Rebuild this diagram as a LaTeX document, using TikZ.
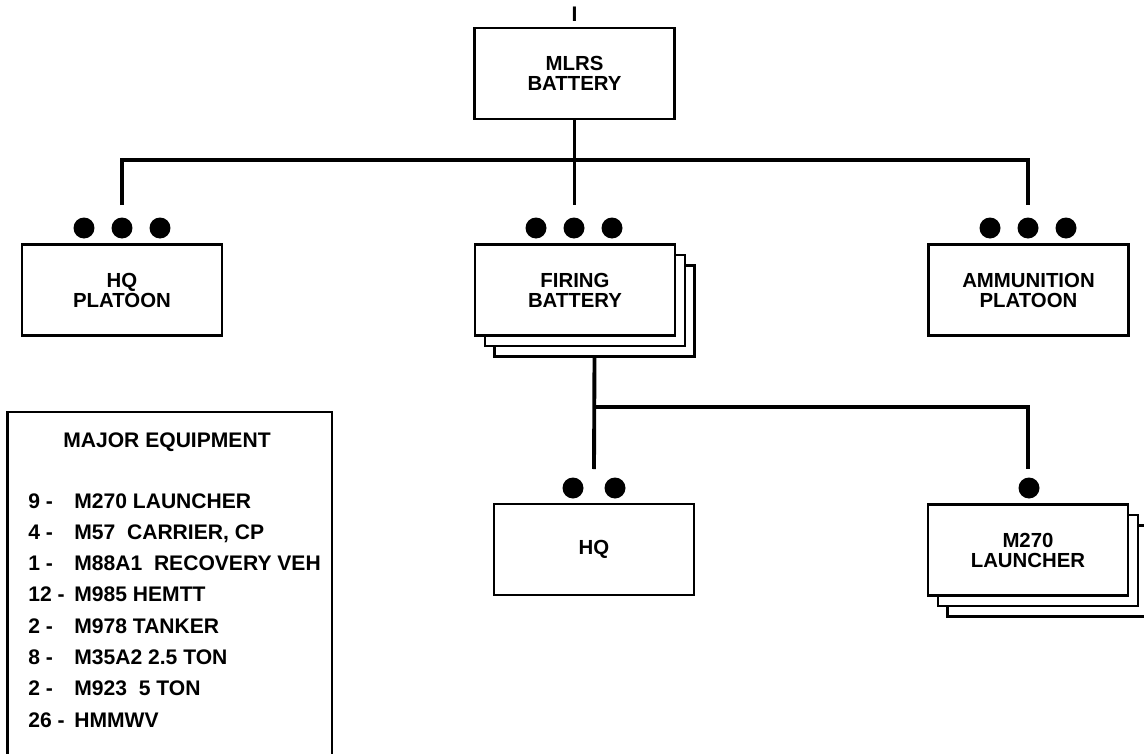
\documentclass[tikz,border=0pt]{standalone}
\usepackage{fontspec}
\setmainfont{Liberation Sans}
\usetikzlibrary{positioning, shadows}

\begin{document}
\begin{tikzpicture}[x=0.02cm, y=-0.02cm,
    unit/.style={draw, line width=1.3pt, fill=white, minimum width=4cm,
      minimum height=1.82cm, align=center, inner sep=0pt,
      font=\fontsize{11.6}{11.4}\selectfont\bfseries},
    stacked/.style={copy shadow={shadow xshift=0.39cm, shadow yshift=-0.42cm, line width=1.3pt},
      copy shadow={shadow xshift=0.195cm, shadow yshift=-0.21cm, line width=1.3pt}},
    link/.style={line width=2.2pt},
    txt/.style={font=\fontsize{12}{14}\selectfont\bfseries, inner sep=0pt}]
  \useasboundingbox (0,0) rectangle (1144,754);
  % echelon mark
  \node[txt, anchor=south] (mark) at (574.5,22) {I};
  % units
  \node[unit] (btry) at (574.5,73.5) {MLRS\\BATTERY};
  \node[unit] (hqplt) at (122,290) {HQ\\PLATOON};
  \node[unit, stacked] (fbtry) at (575,290) {FIRING\\BATTERY};
  \node[unit] (ammo) at (1028.5,290) {AMMUNITION\\PLATOON};
  \node[unit] (hq) at (594,549.5) {HQ};
  \node[unit, stacked] (lchr) at (1028,550) {M270\\LAUNCHER};
  % echelon dots
  \foreach \x in {84,122,160,536,574,612,990,1028,1066}
    \fill (\x,228) circle[radius=0.21cm];
  \foreach \x in {573,615,1029}
    \fill (\x,488) circle[radius=0.21cm];
  % connectors
  \coordinate (bus) at (574.5,160);
  \coordinate (hqpltin) at (122,205);
  \coordinate (fbtryin) at (574.5,205);
  \coordinate (ammoin) at (1028,205);
  \draw[link] (btry.south) -- (bus);
  \draw[link] (hqpltin) |- (bus) -| (ammoin);
  \draw[link] (bus) -- (fbtryin);
  \coordinate (fbus) at (594,407);
  \coordinate (hqin) at (594,469);
  \coordinate (lchrin) at (1028,469);
  \draw[link] ([xshift=0.39cm, yshift=-0.42cm]fbtry.south) -- (hqin);
  \draw[link] (fbus) -| (lchrin);
  % equipment list
  \draw[line width=1.3pt] (7.5,754) |- (332,412) -- (332,754);
  \node[txt, anchor=base] (eqhead) at (167,447) {MAJOR EQUIPMENT};
  \foreach \num/\what [count=\i] in {9/M270 LAUNCHER, 4/{M57~ CARRIER, CP},
      1/M88A1~ RECOVERY VEH, 12/M985 HEMTT, 2/M978 TANKER,
      8/M35A2 2.5 TON, 2/M923~ 5 TON, 26/HMMWV} {
    \node[txt, anchor=base west] (num\i) at (28,{508+31.3*(\i-1)}) {\num\ -};
    \node[txt, anchor=base west] (item\i) at (74,{508+31.3*(\i-1)}) {\what};
  }
\end{tikzpicture}
\end{document}
